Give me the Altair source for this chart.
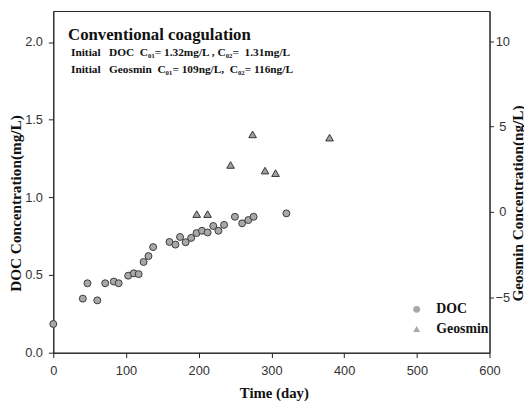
import altair as alt
import pandas as pd

# DOC series (day, mg/L)
doc_day = [0, 40.6, 47, 60.5, 71.4, 83.2, 89.9, 103, 110.7, 117.4, 124.2, 130.9, 137.3,
           159.8, 168, 174.3, 182, 189.6, 197, 204.5, 212.2, 220, 227.1, 234.9,
           249.8, 259.7, 268.2, 275.5, 320.6]
doc_val = [0.185, 0.348, 0.447, 0.337, 0.447, 0.458, 0.447, 0.496, 0.511, 0.506, 0.584, 0.622, 0.68,
           0.713, 0.696, 0.745, 0.711, 0.739, 0.77, 0.785, 0.774, 0.816, 0.785, 0.823,
           0.875, 0.833, 0.854, 0.875, 0.897]

# Geosmin series (day, ng/L)
geo_day = [197.3, 212.2, 243.8, 274.1, 291.2, 305.7, 380.0]
geo_val = [-0.13, -0.13, 2.75, 4.54, 2.42, 2.27, 4.35]

series_names = ["DOC", "Geosmin"]
series_shapes = ["circle", "triangle-up"]

x_ticks = [0, 100, 200, 300, 400, 500, 600]
doc_ticks = [0.0, 0.5, 1.0, 1.5, 2.0]
geo_ticks = [-5, 0, 5, 10]

title_text = "Conventional coagulation"
line2 = "Initial\u00a0\u00a0\u00a0DOC\u00a0\u00a0C\u2080\u2081= 1.32mg/L , C\u2080\u2082= \u00a01.31mg/L"
line3 = "Initial\u00a0\u00a0\u00a0Geosmin\u00a0\u00a0C\u2080\u2081= 109ng/L,\u00a0\u00a0C\u2080\u2082= 116ng/L"

df_doc = pd.DataFrame({"day": doc_day, "val": doc_val, "series": "DOC"})
df_geo = pd.DataFrame({"day": geo_day, "val": geo_val, "series": "Geosmin"})

W, H = 443, 347

x_enc = alt.X("day:Q", scale=alt.Scale(domain=[0, 600], nice=False, zero=False),
              axis=alt.Axis(values=x_ticks, title="Time (day)", tickSize=5, labelPadding=7,
                            titleFontSize=15, titleX=224, titleY=41, titleBaseline="middle",
                            labelFlush=False))

shape_enc = alt.Shape("series:N", scale=alt.Scale(domain=series_names, range=series_shapes),
                      legend=alt.Legend(title=None, orient="none", legendX=362, legendY=296,
                                        labelFont="Liberation Serif", labelFontWeight="bold",
                                        labelFontSize=14, labelColor="#111", labelOffset=13,
                                        rowPadding=6, symbolSize=50,
                                        symbolFillColor="#a0a0a0", symbolStrokeColor="#333333",
                                        symbolStrokeWidth=1))

doc = alt.Chart(df_doc).mark_point(filled=True, fill="#a8a8a8", stroke="#3a3a3a",
                                   strokeWidth=1, opacity=1, size=50).encode(
    x=x_enc,
    y=alt.Y("val:Q", scale=alt.Scale(domain=[0, 2.2], nice=False),
            axis=alt.Axis(values=doc_ticks, format=".1f", orient="left",
                          title="DOC Concentration(mg/L)", tickSize=5, labelPadding=6,
                          titleFontSize=15.5, titleX=-30, titleY=195, titleAngle=270,
                          titleBaseline="bottom", titleAlign="center")),
    shape=shape_enc,
)

geo = alt.Chart(df_geo).mark_point(filled=True, fill="#a0a0a0", stroke="#333333",
                                   strokeWidth=1, opacity=1, size=60).encode(
    x=x_enc,
    y=alt.Y("val:Q", scale=alt.Scale(domain=[-8.25, 11.77], nice=False, zero=False),
            axis=alt.Axis(values=geo_ticks, orient="right",
                          title="Geosmin Concentration(ng/L)", tickSize=4, labelPadding=9,
                          labelAlign="center", titleFontSize=15.5, titleX=21, titleY=195,
                          titleAngle=270, titleBaseline="top", titleAlign="center")),
    shape=shape_enc,
)

t1 = alt.Chart(pd.DataFrame({"t": [title_text]})).mark_text(
    align="left", baseline="middle", font="Liberation Serif", fontWeight="bold",
    fontSize=17, color="#111").encode(x=alt.value(15), y=alt.value(24), text="t:N")
t2 = alt.Chart(pd.DataFrame({"t": [line2]})).mark_text(
    align="left", baseline="middle", font="Liberation Serif", fontWeight="bold",
    fontSize=11.5, color="#111").encode(x=alt.value(18), y=alt.value(43), text="t:N")
t3 = alt.Chart(pd.DataFrame({"t": [line3]})).mark_text(
    align="left", baseline="middle", font="Liberation Serif", fontWeight="bold",
    fontSize=11.5, color="#111").encode(x=alt.value(18), y=alt.value(60), text="t:N")

chart = alt.layer(doc, geo, t1, t2, t3).resolve_scale(y="independent").properties(
    width=W, height=H,
    autosize=alt.AutoSizeParams(type="none"),
    padding={"left": 46, "top": 0, "right": 35, "bottom": 46},
    background="white",
).configure_axis(
    grid=False, labelFont="Liberation Sans", labelFontSize=13, labelColor="#333",
    domainColor="#222", tickColor="#222", titleFont="Liberation Serif",
    titleFontWeight="bold", titleColor="#111",
).configure_view(stroke="#222", strokeWidth=1)

chart.save("out.html", embed_options={"renderer": "svg", "actions": False})
